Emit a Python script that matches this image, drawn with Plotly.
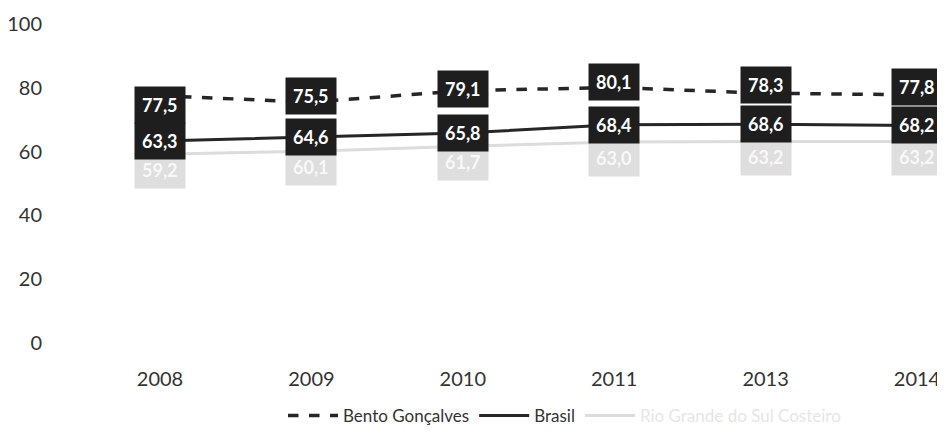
import plotly.graph_objects as go

years = ["2008", "2009", "2010", "2011", "2013", "2014"]
bento = [77.5, 75.5, 79.1, 80.1, 78.3, 77.8]
brasil = [63.3, 64.6, 65.8, 68.4, 68.6, 68.2]
terceiro = [59.2, 60.1, 61.7, 63.0, 63.2, 63.2]
names = ["Bento Gonçalves", "Brasil", "Rio Grande do Sul Costeiro"]
yticks = [0, 20, 40, 60, 80, 100]

# label vertical offsets (px) for the Bento Gonçalves labels
bento_shift = [-9, 6, 2, 5, 8, 8]

FONT = "Lato"
fig = go.Figure()
fig.add_trace(go.Scatter(x=years, y=bento, name=names[0], mode="lines",
                         line=dict(color="#262626", width=3.5, dash="dash")))
fig.add_trace(go.Scatter(x=years, y=brasil, name=names[1], mode="lines",
                         line=dict(color="#262626", width=3)))
fig.add_trace(go.Scatter(x=years, y=terceiro,
                         name=f"<span style='color:#e6e6e6'>{names[2]}</span>", mode="lines",
                         line=dict(color="#dcdcdc", width=3)))

def fmt(v):
    return f"{v:.1f}".replace(".", ",")

for i, v in enumerate(terceiro):
    fig.add_annotation(x=i, y=v, text=f"<b>{fmt(v)}</b>", showarrow=False,
                       yshift=-16, bgcolor="#dedede",
                       font=dict(color="#f8f8f8", size=18, family=FONT), borderpad=7)
for i, v in enumerate(brasil):
    fig.add_annotation(x=i, y=v, text=f"<b>{fmt(v)}</b>", showarrow=False,
                       bgcolor="#1e1e1e", font=dict(color="white", size=18, family=FONT),
                       borderpad=7)
for i, v in enumerate(bento):
    fig.add_annotation(x=i, y=v, text=f"<b>{fmt(v)}</b>", showarrow=False,
                       yshift=bento_shift[i],
                       bgcolor="#1e1e1e", font=dict(color="white", size=18, family=FONT),
                       borderpad=7)

# page body has an 8px margin: figure occupies window pixels 8..945
fig.update_layout(
    width=937, height=426,
    margin=dict(l=47, r=0, t=16, b=89),
    paper_bgcolor="white", plot_bgcolor="white",
    font=dict(family=FONT, size=18, color="#333333"),
    showlegend=True,
    legend=dict(orientation="h", x=(275 - 47) / 890, xanchor="left", y=-0.23,
                yanchor="middle", itemwidth=50, font=dict(size=17, color="#333333")),
    xaxis=dict(type="category", range=[-0.6935, 5.185], showgrid=False, showline=False,
               zeroline=False, ticks="outside", ticklen=18, tickcolor="white",
               automargin=False, tickfont=dict(size=20, color="#333333")),
    yaxis=dict(range=[0, 100], tickvals=yticks, showgrid=False, showline=False,
               zeroline=False, ticks="outside", ticklen=8, tickcolor="white",
               automargin=False, tickfont=dict(size=20, color="#333333")),
)
fig.write_html("out.html")
